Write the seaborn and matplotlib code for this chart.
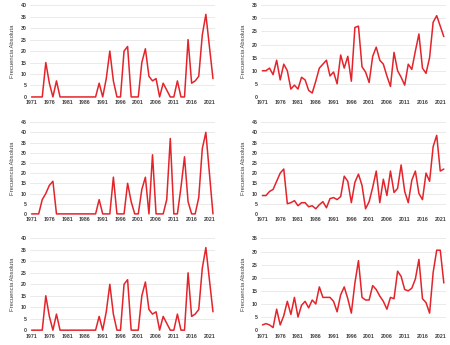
import numpy as np
import pandas as pd
import seaborn as sns
import matplotlib.pyplot as plt

# años 1971-2022
anios = list(range(1971, 2023))

serie_a = [0, 0, 0, 0, 15, 6, 0, 7, 0, 0, 0, 0, 0, 0, 0, 0, 0, 0, 0, 6, 0, 8, 20, 7, 0, 0,
           20, 22, 0, 0, 0, 15, 21, 9, 7, 8, 0, 6, 3, 0, 0, 7, 0, 0, 25, 6, 7, 9, 27, 36, 22, 8]
serie_b = [10, 10, 11, 8.5, 14, 6.5, 12.5, 10, 3, 4.5, 3, 7.5, 6.5, 2.5, 1.5, 6, 11, 12.5, 14, 8,
           9.5, 5, 16, 11, 15.5, 6, 26.5, 27, 11.5, 9.5, 5.5, 15.5, 19, 14, 12.5, 8, 4, 17, 10, 7.5,
           4.5, 12.5, 10.5, 17.5, 24, 11, 9, 15, 28.5, 31, 27, 23]
serie_c = [0, 0, 0, 7, 10, 14, 16, 0, 0, 0, 0, 0, 0, 0, 0, 0, 0, 0, 0, 7, 0, 0, 0, 18, 0, 0,
           0, 15, 6, 0, 0, 12, 18, 0, 29, 0, 0, 0, 7, 37, 0, 0, 13, 28, 6, 0, 0, 8, 32, 40, 20, 0]
serie_d = [9, 9, 11, 12, 16, 20, 22, 5, 5.5, 6.5, 4, 5.5, 5.5, 3.5, 4, 2.5, 4.5, 6, 3, 7.5,
           8, 7, 8.5, 18.5, 16, 5.5, 15.5, 19.5, 14, 2.5, 6, 13, 21, 5.5, 17, 9, 21, 10.5, 12.5, 24,
           11, 5.5, 16.5, 21, 10, 7, 20, 16, 33, 38.5, 21, 22]
serie_e = serie_a
serie_f = [2, 2.5, 2, 1, 8, 2, 5.5, 11, 6, 12.5, 5, 9.5, 11, 8.5, 11.5, 10, 16.5, 12.5, 12.5, 12.5,
           11, 7, 13.5, 16.5, 12, 6.5, 18, 26.5, 12.5, 11.5, 11.5, 17, 15.5, 13, 11, 8, 12.5, 12, 22.5, 20.5,
           15.5, 15, 16, 19.5, 27, 12, 10.5, 6.5, 22, 30.5, 30.5, 18]

series = [serie_a, serie_b, serie_c, serie_d, serie_e, serie_f]
ymax = [40, 35, 45, 45, 40, 35]

sns.set_style("white")
plt.rcParams['font.family'] = ['Liberation Sans', 'DejaVu Sans']

fig = plt.figure(figsize=(4.5, 3.45), dpi=100)
lefts = [0.067, 0.58]
bottoms = [0.719, 0.380, 0.043]
for i, s in enumerate(series):
    fila, col = i // 2, i % 2
    ax = fig.add_axes([lefts[col], bottoms[fila], 0.411, 0.266])
    df = pd.DataFrame({'Año': anios, 'Frecuencia': s})
    sns.lineplot(data=df, x='Año', y='Frecuencia', ax=ax, color='#E3242B', linewidth=1.1, clip_on=False)
    ax.set_xlim(1970.6, 2022.6)
    ax.set_ylim(0, ymax[i])
    ax.set_yticks(np.arange(0, ymax[i] + 1, 5))
    ax.set_xticks(range(1971, 2022, 5))
    ax.grid(axis='y', color='#E6E6E6', linewidth=0.6)
    ax.set_axisbelow(True)
    sns.despine(ax=ax, left=True, bottom=True)
    ax.tick_params(length=0, pad=2.5, labelsize=3.8, labelcolor='#404040')
    for lab in ax.get_xticklabels() + ax.get_yticklabels():
        lab.set_fontweight('bold')
    ax.set_xlabel('')
    ax.set_ylabel('Frecuencia Absoluta', fontsize=4.2, color='#404040', labelpad=4)

fig.savefig('out.png', dpi=100)
